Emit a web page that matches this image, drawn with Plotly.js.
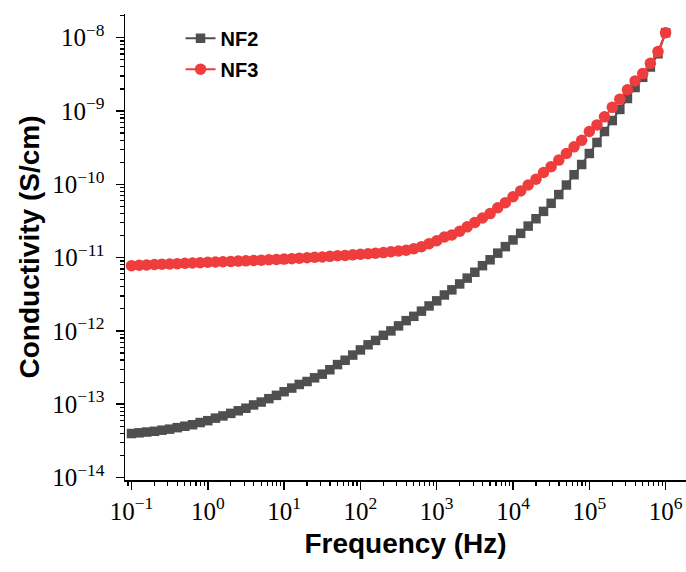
<!DOCTYPE html>
<html>
<head>
<meta charset="utf-8">
<script src="https://cdn.plot.ly/plotly-3.0.1.min.js"></script>
<style>html,body{margin:0;padding:0;background:#fff;}#chart{width:686px;height:572px;}</style>
</head>
<body>
<div id="chart"></div>
<script>
// Frequency (Hz), 10 points per decade
var frequency = [
  0.1, 0.126, 0.158, 0.2, 0.251, 0.316, 0.398, 0.501, 0.631, 0.794,
  1, 1.26, 1.58, 2, 2.51, 3.16, 3.98, 5.01, 6.31, 7.94,
  10, 12.6, 15.8, 20, 25.1, 31.6, 39.8, 50.1, 63.1, 79.4,
  100, 126, 158, 200, 251, 316, 398, 501, 631, 794,
  1000, 1260, 1580, 2000, 2510, 3160, 3980, 5010, 6310, 7940,
  1e4, 1.26e4, 1.58e4, 2e4, 2.51e4, 3.16e4, 3.98e4, 5.01e4, 6.31e4, 7.94e4,
  1e5, 1.26e5, 1.58e5, 2e5, 2.51e5, 3.16e5, 3.98e5, 5.01e5, 6.31e5, 7.94e5,
  1e6
];
// Conductivity (S/cm)
var nf2 = [
  3.98e-14, 4.07e-14, 4.17e-14, 4.27e-14, 4.42e-14, 4.57e-14, 4.79e-14, 5.01e-14, 5.25e-14, 5.62e-14,
  5.96e-14, 6.46e-14, 6.92e-14, 7.50e-14, 8.13e-14, 8.81e-14, 9.77e-14, 1.07e-13, 1.19e-13, 1.32e-13,
  1.48e-13, 1.66e-13, 1.86e-13, 2.04e-13, 2.29e-13, 2.57e-13, 2.95e-13, 3.47e-13, 3.98e-13, 4.68e-13,
  5.50e-13, 6.46e-13, 7.41e-13, 8.71e-13, 1.00e-12, 1.17e-12, 1.38e-12, 1.58e-12, 1.86e-12, 2.19e-12,
  2.57e-12, 3.09e-12, 3.63e-12, 4.37e-12, 5.25e-12, 6.31e-12, 7.76e-12, 9.33e-12, 1.15e-11, 1.41e-11,
  1.74e-11, 2.14e-11, 2.69e-11, 3.39e-11, 4.27e-11, 5.50e-11, 7.24e-11, 9.77e-11, 1.35e-10, 1.86e-10,
  2.63e-10, 3.72e-10, 5.25e-10, 7.41e-10, 1.05e-9, 1.48e-9, 2.09e-9, 2.88e-9, 3.98e-9, 6.03e-9,
  1.17e-8
];
var nf3 = [
  7.76e-12, 7.85e-12, 7.94e-12, 8.04e-12, 8.13e-12, 8.18e-12, 8.26e-12, 8.36e-12, 8.45e-12, 8.53e-12,
  8.63e-12, 8.71e-12, 8.79e-12, 8.87e-12, 8.95e-12, 9.04e-12, 9.12e-12, 9.23e-12, 9.33e-12, 9.44e-12,
  9.55e-12, 9.68e-12, 9.82e-12, 9.95e-12, 1.01e-11, 1.02e-11, 1.04e-11, 1.06e-11, 1.07e-11, 1.09e-11,
  1.11e-11, 1.13e-11, 1.15e-11, 1.17e-11, 1.20e-11, 1.23e-11, 1.26e-11, 1.32e-11, 1.41e-11, 1.55e-11,
  1.70e-11, 1.91e-11, 2.04e-11, 2.29e-11, 2.63e-11, 3.02e-11, 3.47e-11, 3.98e-11, 4.79e-11, 5.62e-11,
  6.76e-11, 8.13e-11, 9.77e-11, 1.17e-10, 1.45e-10, 1.74e-10, 2.14e-10, 2.63e-10, 3.24e-10, 3.98e-10,
  5.25e-10, 6.46e-10, 8.32e-10, 1.12e-9, 1.45e-9, 1.95e-9, 2.57e-9, 3.24e-9, 4.47e-9, 6.46e-9,
  1.17e-8
];
var seriesNames = ['NF2', 'NF3'];
var xTitle = 'Frequency (Hz)';
var yTitle = 'Conductivity (S/cm)';
var xTickVals = [0.1, 1, 10, 100, 1000, 1e4, 1e5, 1e6];
var xTickText = ['10<sup>\u22121</sup>', '10<sup>0</sup>', '10<sup>1</sup>', '10<sup>2</sup>',
                 '10<sup>3</sup>', '10<sup>4</sup>', '10<sup>5</sup>', '10<sup>6</sup>'];
var yTickVals = [1e-14, 1e-13, 1e-12, 1e-11, 1e-10, 1e-9, 1e-8];
var yTickText = ['10<sup>\u221214</sup>', '10<sup>\u221213</sup>', '10<sup>\u221212</sup>', '10<sup>\u221211</sup>',
                 '10<sup>\u221210</sup>', '10<sup>\u22129</sup>', '10<sup>\u22128</sup>'];

var traces = [
  {x: frequency, y: nf2, name: seriesNames[0], legendgroup: 'g1', type: 'scatter', mode: 'lines+markers',
   line: {color: '#4f4f4f', width: 2}, marker: {symbol: 'square', size: 9.5, color: '#4f4f4f'}},
  {x: frequency, y: nf3, name: seriesNames[1], legendgroup: 'g2', type: 'scatter', mode: 'lines+markers',
   line: {color: '#ef3d3d', width: 2}, marker: {symbol: 'circle', size: 11.5, color: '#ef3d3d'}}
];

var tickFont = {family: '"Liberation Serif", "Times New Roman", serif', size: 25, color: '#000'};
var titleFont = {family: '"Liberation Sans", Arial, sans-serif', size: 28, color: '#000', weight: 'bold'};

var layout = {
  width: 686, height: 572,
  margin: {l: 125, r: 0, t: 14, b: 92},
  paper_bgcolor: '#fff', plot_bgcolor: '#fff',
  showlegend: true,
  legend: {x: 0.099, y: 0.99, xanchor: 'left', yanchor: 'top', bgcolor: 'rgba(0,0,0,0)',
           font: {family: '"Liberation Sans", Arial, sans-serif', size: 20, color: '#000', weight: 'bold'},
           tracegroupgap: 2},
  xaxis: {
    type: 'log', range: [-1.085, 6.267], tickmode: 'array', tickvals: xTickVals, ticktext: xTickText,
    showgrid: false, zeroline: false, showline: true, linecolor: '#000', linewidth: 1.5,
    ticks: 'outside', ticklen: 8, tickwidth: 1.5, tickcolor: '#000',
    minor: {ticks: 'outside', ticklen: 4, tickwidth: 1.2, tickcolor: '#000', dtick: 'D1', showgrid: false},
    tickfont: tickFont,
    title: {text: xTitle, font: titleFont, standoff: 10}
  },
  yaxis: {
    type: 'log', range: [-14.034, -7.677], tickmode: 'array', tickvals: yTickVals, ticktext: yTickText,
    showgrid: false, zeroline: false, showline: true, linecolor: '#000', linewidth: 1.5,
    ticks: 'outside', ticklen: 8, tickwidth: 1.5, tickcolor: '#000', ticklabelstandoff: 6,
    minor: {ticks: 'outside', ticklen: 4, tickwidth: 1.2, tickcolor: '#000', dtick: 'D1', showgrid: false},
    tickfont: tickFont,
    title: {text: yTitle, font: titleFont, standoff: 4}
  }
};

Plotly.newPlot('chart', traces, layout, {displayModeBar: false, staticPlot: true});
</script>
</body>
</html>
